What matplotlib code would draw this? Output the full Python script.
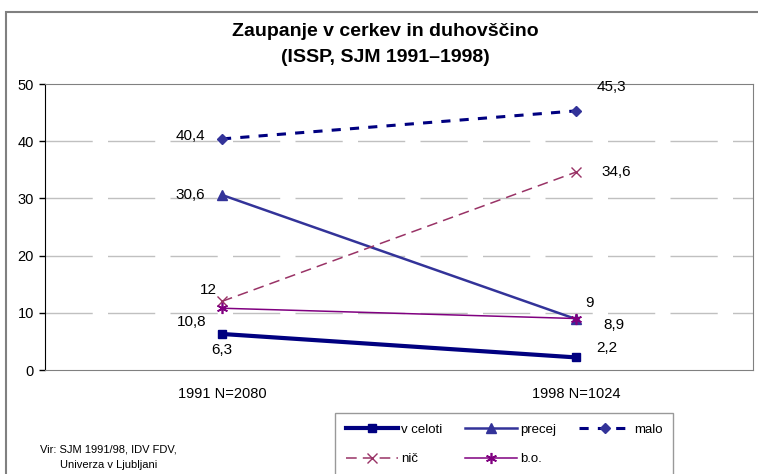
import matplotlib.pyplot as plt
from matplotlib.patches import Rectangle

# Data
categories = ["1991 N=2080", "1998 N=1024"]
v_celoti = [6.3, 2.2]
precej = [30.6, 8.9]
malo = [40.4, 45.3]
nic = [12, 34.6]
bo = [10.8, 9]

plt.rcParams['font.family'] = ['Liberation Sans', 'DejaVu Sans']

fig = plt.figure(figsize=(7.58, 4.74), dpi=100)
ax = fig.add_axes([45 / 758, 1 - 370 / 474, 708 / 758, 286 / 474])

# outer chart frame
fig.patches.append(Rectangle((6 / 758, -0.1), 1.2, 1 - 12 / 474 + 0.1, transform=fig.transFigure,
                             fill=False, edgecolor="#808080", linewidth=1.5))

x = list(range(len(categories)))

l1, = ax.plot(x, v_celoti, color="#000080", lw=3, marker="s", ms=6, label="v celoti")
l2, = ax.plot(x, precej, color="#333399", lw=1.8, marker="^", ms=7, label="precej")
l3, = ax.plot(x, malo, color="#000080", lw=2.2, ls=(0, (3, 3)), marker="D", ms=5,
              markerfacecolor="#333399", markeredgecolor="#333399", label="malo")
l4, = ax.plot(x, nic, color="#993366", lw=1.1, ls=(0, (7, 4)), marker="x", ms=7, mew=1, label="nič")
l5, = ax.plot(x, bo, color="#800080", lw=1.1, marker=(6, 2, 0), ms=8, mew=1.2, label="b.o.")

# data labels (offsets in pixels)
labels = [
    (0, malo[0], "40,4", -32, 3),
    (0, precej[0], "30,6", -32, 0),
    (0, nic[0], "12", -14, 11),
    (0, bo[0], "10,8", -30, -14),
    (0, v_celoti[0], "6,3", 0, -16),
    (1, malo[1], "45,3", 35, 24),
    (1, nic[1], "34,6", 40, 0),
    (1, bo[1], "9", 13, 16),
    (1, precej[1], "8,9", 38, -6),
    (1, v_celoti[1], "2,2", 31, 9),
]
for xi, yi, txt, dx, dy in labels:
    ax.annotate(txt, (xi, yi), xytext=(dx, dy), textcoords="offset pixels",
                ha="center", va="center", fontsize=11)

ax.set_xlim(-0.5, 1.5)
ax.set_ylim(0, 50)
ax.set_yticks(range(0, 51, 10))
ax.set_xticks(x)
ax.set_xticklabels(categories)
ax.tick_params(axis="x", length=0, pad=12, labelsize=10.5)
ax.tick_params(axis="y", direction="out", length=4, width=1, pad=4, labelsize=10.5)

for yv in range(10, 50, 10):
    ax.axhline(yv, color="#c0c0c0", lw=1, ls=(0, (34, 11)), zorder=0)

ax.spines["left"].set_color("black")
for s in ["top", "right", "bottom"]:
    ax.spines[s].set_color("#808080")

fig.text(385 / 758, 1 - 32 / 474, "Zaupanje v cerkev in duhovščino", ha="center", va="center",
         fontsize=14, fontweight="bold")
fig.text(385 / 758, 1 - 58 / 474, "(ISSP, SJM 1991–1998)", ha="center", va="center",
         fontsize=14, fontweight="bold")

fig.text(40 / 758, 1 - 450 / 474, "Vir: SJM 1991/98, IDV FDV,", ha="left", va="center", fontsize=8)
fig.text(60 / 758, 1 - 465 / 474, "Univerza v Ljubljani", ha="left", va="center", fontsize=8)

leg = fig.legend([l1, l4, l2, l5, l3], ["v celoti", "nič", "precej", "b.o.", "malo"],
                 ncol=3, loc="upper left", bbox_to_anchor=(335 / 758, 1 - 413 / 474),
                 borderaxespad=0, fontsize=9.5, frameon=True, fancybox=False, edgecolor="#808080",
                 handlelength=4.0, columnspacing=1.7, labelspacing=1.3, borderpad=0.8,
                 handletextpad=0.2)
leg.get_frame().set_linewidth(1)

fig.savefig("out.png", dpi=100)
